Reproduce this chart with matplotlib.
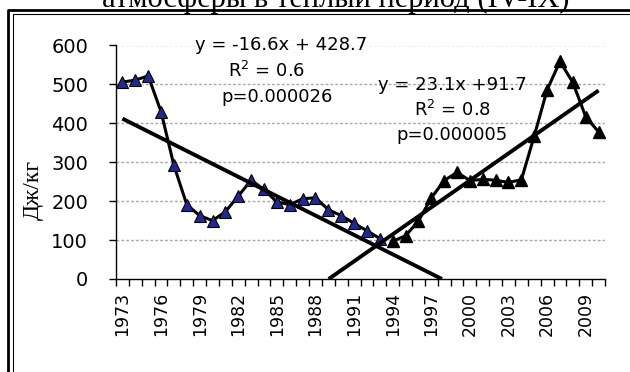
import matplotlib
matplotlib.use("Agg")
import matplotlib.pyplot as plt
from matplotlib.lines import Line2D
import numpy as np

years = list(range(1973, 2011))
tick_years = list(range(1973, 2010, 3))
# series 1: 1973-1993 (blue), series 2: 1994-2010 (black)
s1_years = list(range(1973, 1994))
s1_values = [506, 511, 522, 430, 292, 191, 163, 150, 173, 213, 254, 230, 198,
             191, 206, 209, 178, 163, 143, 124, 104]
s2_years = list(range(1994, 2011))
s2_values = [97, 111, 149, 208, 253, 274, 253, 256, 254, 248, 255, 367, 486,
             559, 505, 417, 378]
# trend coefficients (slope, intercept) as written on the chart
trend1 = (-16.6, 428.7)
trend2 = (23.1, 91.7)
y_ticks = [0, 100, 200, 300, 400, 500, 600]

W, H = 630, 372
fig = plt.figure(figsize=(W / 100, H / 100), dpi=100)
fig.patch.set_facecolor("white")

ax_l, ax_r, ax_b, ax_t = 116, 605, 279, 45.5
ax = fig.add_axes([ax_l / W, 1 - ax_b / H, (ax_r - ax_l) / W, (ax_b - ax_t) / H])

idx = {y: i for i, y in enumerate(years)}
x1 = [idx[y] for y in s1_years]
x2 = [idx[y] for y in s2_years]

# gridlines
for v in y_ticks[1:]:
    ax.axhline(v, color="#a8a8a8", lw=1.0, ls=(0, (2, 1.5)), zorder=0)

ax.plot(x1, s1_values, color="black", lw=2.2, marker="^", ms=9,
        markerfacecolor="#22288f", markeredgecolor="black", markeredgewidth=0.8,
        zorder=3)
ax.plot(x2, s2_values, color="black", lw=2.2, marker="^", ms=9,
        markerfacecolor="black", markeredgecolor="black", zorder=3)

# trend line 1: x = 1 at first year of series 1, extended until y = 0
k1, b1 = trend1
xa = 1.0
xb = -b1 / k1
ax.plot([x1[0] + xa - 1, x1[0] + xb - 1], [k1 * xa + b1, k1 * xb + b1],
        color="black", lw=2.8, solid_capstyle="butt", zorder=4)
# trend line 2: x = 1 at first year of series 2, extended back to y = 0
k2, b2 = trend2
xa = -b2 / k2
xb = len(s2_values)
ax.plot([x2[0] + xa - 1, x2[0] + xb - 1], [k2 * xa + b2, k2 * xb + b2],
        color="black", lw=2.8, solid_capstyle="butt", zorder=4)

ax.set_xlim(-0.5, len(years) - 0.5)
ax.set_ylim(0, 600)
ax.set_yticks(y_ticks)
ax.set_yticklabels([str(v) for v in y_ticks], fontsize=14, family="DejaVu Sans")
ax.set_xticks([idx[y] for y in tick_years])
ax.set_xticklabels([str(y) for y in tick_years], rotation=90, fontsize=12.5,
                   family="DejaVu Sans")
ax.set_xticks(np.arange(-0.5, len(years), 1.0), minor=True)
ax.tick_params(axis="x", which="major", length=0, pad=9)
ax.tick_params(axis="x", which="minor", length=5, width=1, direction="out")
ax.tick_params(axis="y", which="major", length=5, width=1, direction="out", pad=15)
for s in ("top", "right"):
    ax.spines[s].set_visible(False)
for s in ("left", "bottom"):
    ax.spines[s].set_linewidth(1.0)
ax.set_facecolor("none")

ax.set_ylabel("Дж/кг", family="Liberation Serif", fontsize=17)
ax.yaxis.label.set_va("center")
ax.yaxis.set_label_coords((33 - ax_l) / (ax_r - ax_l), (ax_b - 190) / (ax_b - ax_t))

def ftxt(x, y, s, **kw):
    fig.text(x / W, 1 - y / H, s, ha="center", va="center",
             family="DejaVu Sans", fontsize=13, **kw)

ftxt(281, 45, "y = -16.6x + 428.7")
ftxt(267, 71, "R$^2$ = 0.6")
ftxt(277, 97, "p=0.000026")
ftxt(452, 85, "y = 23.1x +91.7")
ftxt(452, 110, "R$^2$ = 0.8")
ftxt(452, 135, "p=0.000005")

# caption above the frame, partially visible as in the source
fig.text(336 / W, 1 - 7 / H, "атмосферы в теплый период (IV-IX)",
         ha="center", va="baseline", family="Liberation Serif", fontsize=22)

# double frame
fig.add_artist(Line2D([8 / W, 8 / W, 1.0], [0.0, 1 - 10 / H, 1 - 10 / H],
                      transform=fig.transFigure, color="black", lw=2.0))
fig.add_artist(Line2D([12.5 / W, 12.5 / W, 1.0], [0.0, 1 - 13.5 / H, 1 - 13.5 / H],
                      transform=fig.transFigure, color="black", lw=0.8))

fig.savefig("out.png", dpi=100)
